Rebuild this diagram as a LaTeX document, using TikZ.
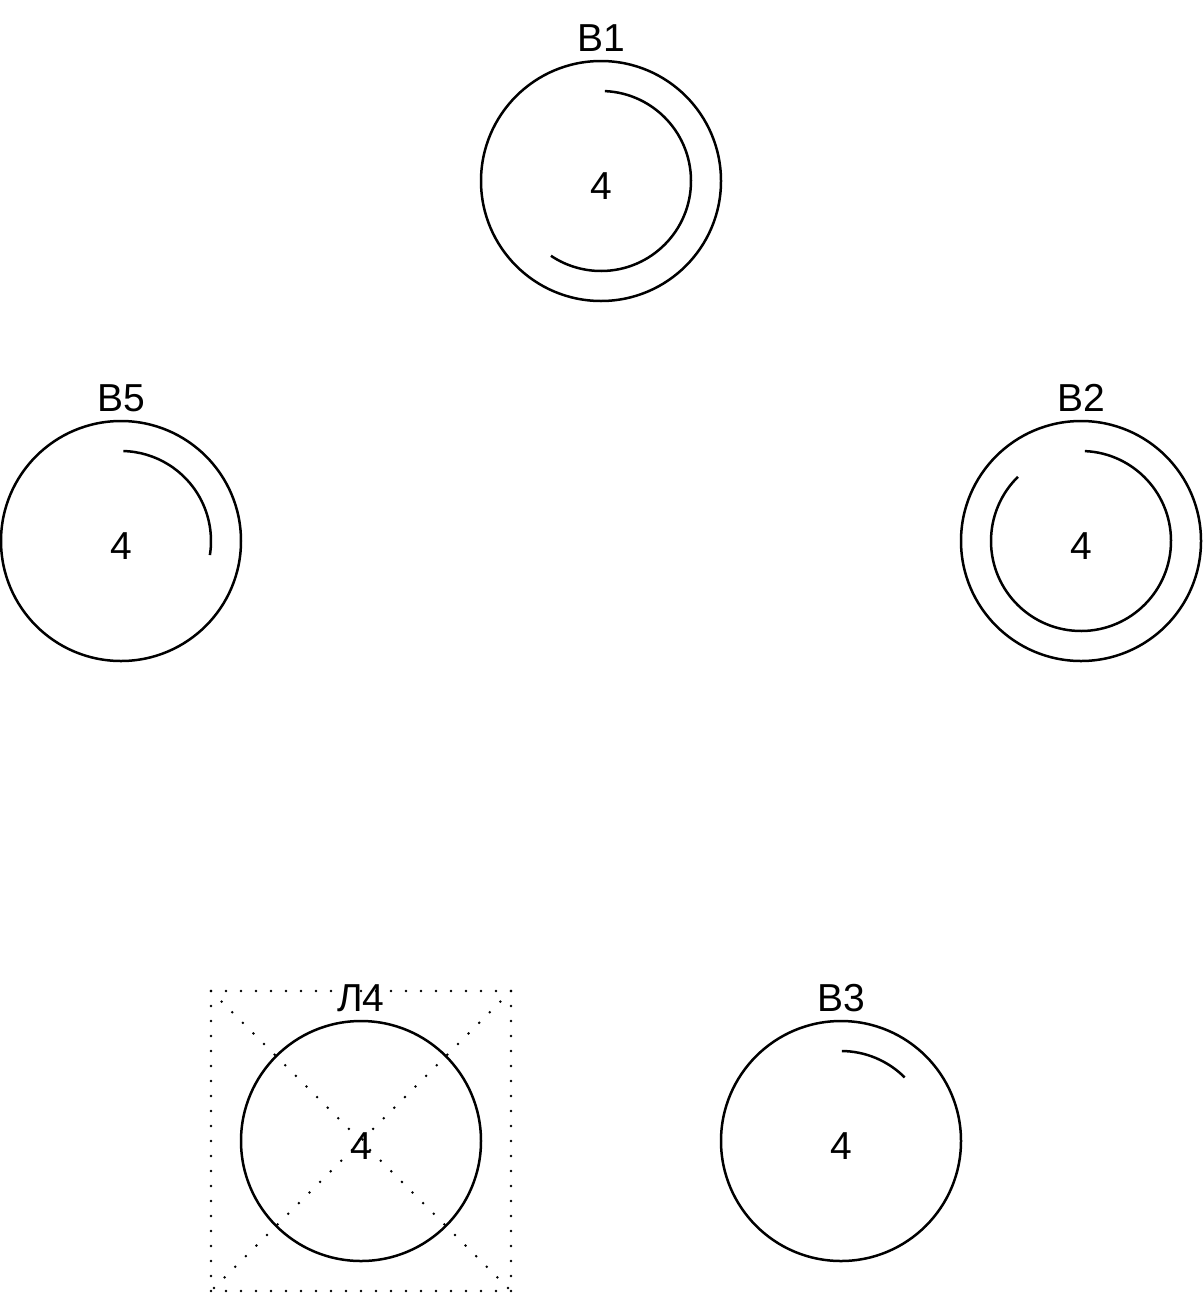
\documentclass[tikz,border=0pt]{standalone}
\usepackage{fontspec}
\setmainfont{Liberation Sans}
\begin{document}
\begin{tikzpicture}[
  x=1pt, y=1pt,
  valve/.style={circle, draw, line width=1.25pt, minimum size=120pt, inner sep=0pt, outer sep=0pt},
  num/.style={font=\fontsize{19.5}{23}\selectfont},
  lab/.style={font=\fontsize{19.5}{23}\selectfont, anchor=base},
  turn/.style={line width=1.25pt},
  dotbox/.style={line width=1.4pt, line cap=round, dash pattern=on 0pt off 7.5pt}
]
\useasboundingbox (0,0) rectangle (601.5,-648);
\foreach \n/\x/\y/\t in {b1/300.5/-90.5/В1, b2/540.5/-270.5/В2, b5/60.5/-270.5/В5,
                          l4/180.5/-570.5/Л4, b3/420.5/-570.5/В3} {
  \node[valve] (\n) at (\x,\y) {};
  \node[num] (\n-num) at ([yshift=-2.5pt]\n.center) {4};
  \node[lab] (\n-lab) at ([yshift=5pt]\n.north) {\t};
}
% turns of the winding
\draw[turn] ([shift={(87.5:45)}]b1.center) arc[start angle=87.5, end angle=-123.8, radius=45];
\draw[turn] ([shift={(87.5:45)}]b2.center) arc[start angle=87.5, end angle=-225.5, radius=45];
\draw[turn] ([shift={(88.5:45)}]b5.center) arc[start angle=88.5, end angle=-9, radius=45];
\draw[turn] ([shift={(89.5:45)}]b3.center) arc[start angle=89.5, end angle=45, radius=45];
% crossed box round Л4
\node[dotbox, draw, minimum size=150pt, inner sep=0pt, outer sep=0pt] (l4-box) at (l4.center) {};
\draw[dotbox] (l4-box.north west) -- (l4-box.south east);
\draw[dotbox] (l4-box.north east) -- (l4-box.south west);
\end{tikzpicture}
\end{document}
